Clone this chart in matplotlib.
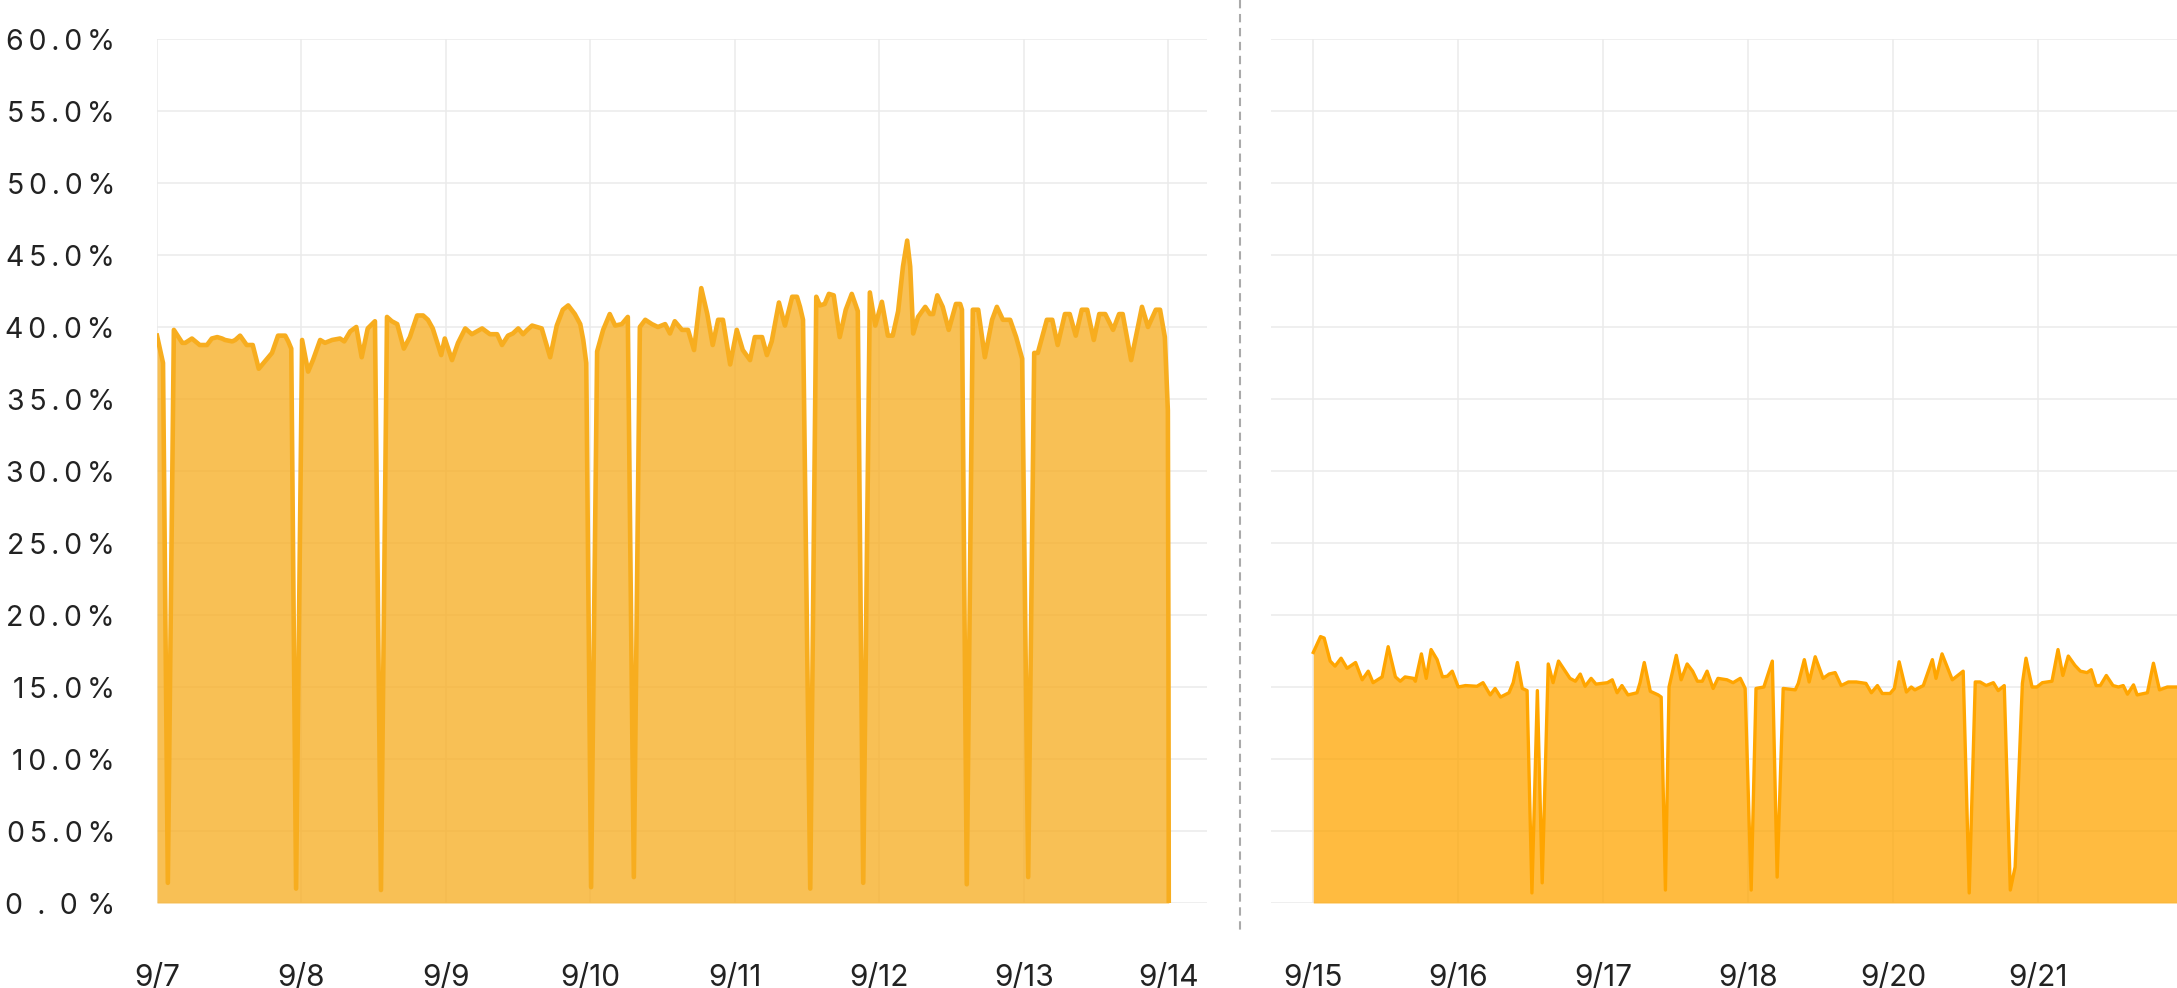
import matplotlib.pyplot as plt
from matplotlib.lines import Line2D

plt.rcParams['font.family'] = ['Inter', 'DejaVu Sans']

# left panel: hours since 9/7 00:00, value in %
left_hours = [0.0, 1.0, 1.8, 2.8, 4.2, 4.7, 5.8, 7.1, 8.3, 9.1,
              10.0, 10.8, 11.3, 12.5, 13.0, 13.8, 14.9, 15.9, 16.9, 17.9,
              19.1, 20.1, 21.3, 21.8, 22.3, 23.1, 24.1, 25.1, 25.9, 27.1,
              27.9, 29.1, 30.4, 31.1, 32.1, 33.1, 34.0, 35.0, 36.2, 37.2,
              38.2, 39.0, 39.9, 41.0, 42.0, 43.2, 44.2, 45.0, 45.8, 47.2,
              47.8, 49.0, 50.0, 51.2, 52.3, 54.0, 55.3, 56.5, 57.3, 58.3,
              59.1, 60.0, 60.8, 61.5, 62.3, 63.9, 65.3, 66.4, 67.4, 68.3,
              69.4, 70.3, 70.8, 71.3, 72.1, 73.1, 74.1, 75.2, 76.1, 77.2,
              78.2, 79.2, 80.2, 81.1, 82.2, 83.2, 84.4, 85.2, 86.0, 87.2,
              88.2, 89.2, 90.4, 91.4, 92.3, 93.2, 94.0, 95.2, 96.3, 97.3,
              98.5, 99.3, 100.5, 101.3, 102.1, 103.3, 104.3, 105.5, 106.3, 106.8,
              107.3, 108.5, 109.5, 110.1, 110.9, 111.6, 112.4, 113.4, 114.4, 115.4,
              116.4, 117.3, 118.4, 119.3, 120.4, 121.4, 122.2, 123.1, 123.9, 124.6,
              125.1, 125.6, 126.4, 127.6, 128.4, 128.9, 129.6, 130.5, 131.5, 132.7,
              133.4, 133.7, 134.5, 135.5, 136.4, 137.5, 138.7, 139.5, 140.5, 141.7,
              142.7, 143.7, 144.7, 145.7, 146.3, 147.8, 148.7, 149.6, 150.8, 151.6,
              152.6, 153.6, 154.5, 155.6, 156.5, 157.5, 158.8, 159.8, 160.4, 161.8,
              163.6, 164.6, 165.9, 166.6, 167.4, 167.9, 168.0, 168.05]
left_pct = [39.4, 37.5, 1.4, 39.8, 38.9, 38.9, 39.2, 38.75, 38.75, 39.2,
            39.3, 39.2, 39.1, 39.0, 39.1, 39.4, 38.75, 38.75, 37.1, 37.6,
            38.2, 39.4, 39.4, 39.0, 38.5, 1.0, 39.1, 36.9, 37.7, 39.1,
            38.9, 39.1, 39.2, 39.0, 39.7, 40.0, 37.9, 39.9, 40.4, 0.9,
            40.7, 40.4, 40.2, 38.5, 39.3, 40.8, 40.8, 40.5, 39.9, 38.05,
            39.2, 37.7, 38.9, 39.9, 39.5, 39.9, 39.5, 39.5, 38.75, 39.4,
            39.55, 39.9, 39.5, 39.8, 40.1, 39.9, 37.9, 40.1, 41.2, 41.5,
            40.9, 40.2, 39.1, 37.5, 1.1, 38.3, 39.8, 40.9, 40.1, 40.2,
            40.7, 1.8, 40.0, 40.5, 40.2, 40.0, 40.2, 39.55, 40.4, 39.8,
            39.8, 38.4, 42.7, 40.9, 38.75, 40.5, 40.5, 37.4, 39.8, 38.4,
            37.7, 39.3, 39.3, 38.05, 39.0, 41.7, 40.1, 42.1, 42.1, 41.4,
            40.5, 1.0, 42.1, 41.5, 41.6, 42.3, 42.2, 39.3, 41.2, 42.3,
            41.1, 1.4, 42.4, 40.1, 41.75, 39.4, 39.4, 41.1, 44.2, 46.0,
            44.2, 39.55, 40.7, 41.4, 40.9, 40.9, 42.2, 41.4, 39.8, 41.6,
            41.6, 41.2, 1.3, 41.2, 41.2, 37.9, 40.5, 41.4, 40.5, 40.5,
            39.3, 37.8, 1.8, 38.2, 38.2, 40.5, 40.5, 38.75, 40.9, 40.9,
            39.4, 41.2, 41.2, 39.1, 40.9, 40.9, 39.8, 40.9, 40.9, 37.7,
            41.4, 40.0, 41.2, 41.2, 39.3, 34.2, 17.4, 0.0]

# right panel: hours since 9/15 00:00 on the category day axis (9/19 absent)
right_hours = [0.0, 1.2, 1.8, 2.8, 3.6, 4.6, 5.6, 7.0, 8.1, 9.1,
               9.9, 11.4, 12.4, 13.6, 14.4, 15.2, 16.6, 16.9, 17.9, 18.7,
               19.5, 20.5, 21.4, 22.2, 23.0, 24.0, 25.2, 27.1, 28.1, 29.3,
               30.1, 31.0, 32.4, 33.1, 33.8, 34.6, 35.4, 36.2, 37.1, 37.9,
               38.9, 39.7, 40.6, 42.5, 43.4, 44.2, 45.0, 46.0, 46.8, 48.7,
               49.5, 50.3, 51.1, 52.1, 53.6, 54.1, 54.8, 55.8, 57.1, 57.6,
               58.3, 58.9, 60.1, 60.9, 61.9, 62.8, 63.6, 64.4, 65.2, 66.2,
               67.0, 68.5, 69.5, 70.7, 71.5, 72.5, 73.3, 74.6, 76.0, 76.8,
               77.8, 79.8, 80.3, 81.3, 82.1, 83.1, 84.4, 85.4, 86.4, 87.4,
               88.6, 89.9, 91.5, 92.4, 93.4, 94.2, 95.5, 96.2, 97.0, 98.2,
               99.0, 99.6, 101.0, 102.5, 103.1, 104.1, 105.8, 107.6, 108.6, 109.6,
               110.4, 111.4, 112.6, 113.4, 114.4, 115.4, 116.2, 117.4, 118.0, 119.0,
               119.8, 120.7, 122.3, 123.3, 124.1, 125.0, 126.1, 127.0, 128.1, 128.8,
               129.6, 130.3, 131.3, 132.4, 133.3, 134.1, 134.8, 135.8, 136.4, 138.1,
               139.1, 140.1, 141.4, 143.0]
right_pct = [17.4, 18.5, 18.4, 16.8, 16.45, 17.0, 16.3, 16.7, 15.5, 16.1,
             15.3, 15.7, 17.8, 15.7, 15.4, 15.7, 15.6, 15.4, 17.3, 15.6,
             17.6, 16.9, 15.7, 15.75, 16.1, 15.0, 15.1, 15.05, 15.3, 14.45,
             14.9, 14.3, 14.6, 15.3, 16.7, 14.9, 14.75, 0.7, 14.75, 1.4,
             16.6, 15.3, 16.8, 15.6, 15.4, 15.9, 15.05, 15.6, 15.2, 15.3,
             15.5, 14.6, 15.1, 14.45, 14.6, 15.3, 16.7, 14.7, 14.45, 14.3,
             0.9, 15.0, 17.2, 15.5, 16.6, 16.1, 15.4, 15.4, 16.1, 14.9,
             15.6, 15.5, 15.3, 15.6, 14.9, 0.9, 14.9, 15.0, 16.8, 1.8,
             14.9, 14.8, 15.25, 16.9, 15.35, 17.1, 15.6, 15.9, 16.0, 15.1,
             15.35, 15.35, 15.25, 14.6, 15.1, 14.55, 14.55, 14.9, 16.75, 14.65,
             15.0, 14.8, 15.1, 16.9, 15.6, 17.3, 15.5, 16.1, 0.7, 15.35,
             15.35, 15.1, 15.3, 14.75, 15.1, 0.9, 2.5, 15.25, 17.0, 15.0,
             15.0, 15.3, 15.4, 17.6, 15.8, 17.15, 16.5, 16.1, 16.0, 16.2,
             15.1, 15.1, 15.8, 15.1, 15.0, 15.1, 14.5, 15.15, 14.45, 14.6,
             16.65, 14.8, 15.0, 15.0]

left_days = ["9/7", "9/8", "9/9", "9/10", "9/11", "9/12", "9/13", "9/14"]
right_days = ["9/15", "9/16", "9/17", "9/18", "9/20", "9/21"]
y_values = list(range(0, 61, 5))
y_labels = ["0.0%"] + ["%02d.0%%" % v for v in y_values[1:]]

W, H = 2177, 988
fig = plt.figure(figsize=(W / 100, H / 100), dpi=100)
ax1 = fig.add_axes([157 / W, 85 / H, 1050 / W, 864 / H])
ax2 = fig.add_axes([1271 / W, 85 / H, (W - 1271) / W, 864 / H])

for ax in (ax1, ax2):
    ax.set_ylim(0, 60)
    ax.set_yticks(y_values)
    ax.grid(True, color='#ebebeb', lw=1.1)
    ax.set_axisbelow(True)
    for s in ax.spines.values():
        s.set_visible(False)
    ax.tick_params(length=0, labelsize=21.5, colors='#222222')
    ax.tick_params(axis='x', pad=44)

ax1.fill_between(left_hours, left_pct, color='#F7AD1F', alpha=0.76, lw=0)
ax1.plot(left_hours, left_pct, color='#F7AD1F', lw=3.3, solid_joinstyle='round')
ax1.set_xlim(0, 174.4)
ax1.set_xticks([24 * i for i in range(len(left_days))])
ax1.set_xticklabels(left_days)

# spaced-out percent labels, the zero one stretched to the same width
spaced = []
for lab in y_labels:
    if lab == "0.0%":
        spaced.append("0\u2002.\u20020\u2004%")
    else:
        spaced.append("\u2006".join(lab))
ax1.set_yticklabels(spaced)
ax1.tick_params(axis='y', pad=30.2, labelsize=20.5)

ax2.fill_between(right_hours, right_pct, color='#FFA500', alpha=0.75, lw=0)
ax2.plot(right_hours, right_pct, color='#FFA500', lw=2.4, solid_joinstyle='round')
ax2.set_xlim(-7.0, 143.0)
ax2.set_xticks([24 * i for i in range(len(right_days))])
ax2.set_xticklabels(right_days)
ax2.set_yticklabels([])

# dashed separator between the two weeks
fig.add_artist(Line2D([1240 / W, 1240 / W], [1.0, 1 - 932 / H],
                      transform=fig.transFigure, color='#aaaaaa', lw=1.5,
                      dashes=(4, 2.7)))

fig.savefig("out.png", dpi=100)
